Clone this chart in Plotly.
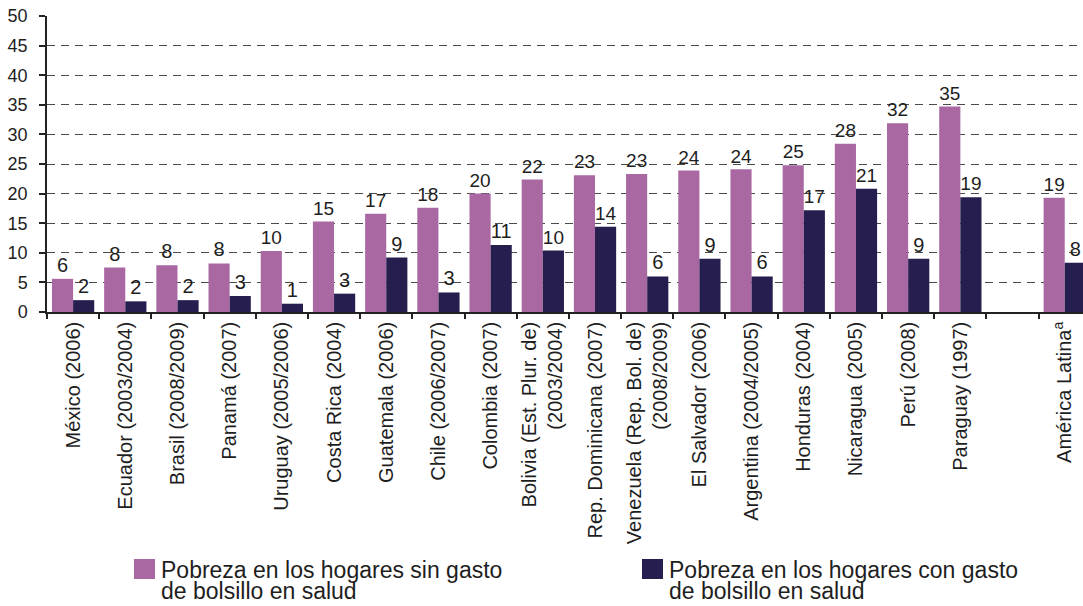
import plotly.graph_objects as go

# Countries (survey years) plus the regional aggregate; a blank slot separates them
categories = [
    "México (2006)", "Ecuador (2003/2004)", "Brasil (2008/2009)", "Panamá (2007)",
    "Uruguay (2005/2006)", "Costa Rica (2004)", "Guatemala (2006)", "Chile (2006/2007)",
    "Colombia (2007)", "Bolivia (Est. Plur. de)<br>(2003/2004)", "Rep. Dominicana (2007)",
    "Venezuela (Rep. Bol. de)<br>(2008/2009)", "El Salvador (2006)", "Argentina (2004/2005)",
    "Honduras (2004)", "Nicaragua (2005)", "Perú (2008)", "Paraguay (1997)", " ",
    "América Latina<sup>a</sup>",
]

# Poverty among households without out-of-pocket health spending (%)
sin_gasto = [5.6, 7.5, 7.9, 8.2, 10.3, 15.3, 16.6, 17.6, 20.0, 22.4, 23.1, 23.3,
             23.9, 24.1, 24.8, 28.4, 31.9, 34.7, None, 19.3]
# Poverty among households with out-of-pocket health spending (%)
con_gasto = [2.0, 1.8, 2.0, 2.7, 1.4, 3.1, 9.2, 3.3, 11.3, 10.4, 14.4, 6.0,
             9.0, 6.0, 17.2, 20.8, 9.0, 19.4, None, 8.3]

series_names = [
    "Pobreza en los hogares sin gasto<br>de bolsillo en salud",
    "Pobreza en los hogares con gasto<br>de bolsillo en salud",
]
y_ticks = list(range(0, 55, 5))

PINK = "#AA68A3"
NAVY = "#261E4E"
TEXT = "#1e1e1e"
FONT = "Liberation Sans, Arial, sans-serif"

W, H = 1083, 606
M_L, M_R, M_T, M_B = 47, 0, 16, 294


def present(values):
    """Keep only categories that carry a value (the spacer slot stays empty)."""
    pairs = [(c, v) for c, v in zip(categories, values) if v is not None]
    return [c for c, _ in pairs], [v for _, v in pairs]


fig = go.Figure()
for name, vals, color in [(series_names[0], sin_gasto, PINK), (series_names[1], con_gasto, NAVY)]:
    xs, ys = present(vals)
    fig.add_trace(go.Bar(
        x=xs, y=ys, name=name,
        marker=dict(color=color, line=dict(width=0)),
        text=[str(int(v + 0.5)) for v in ys], textposition="outside",
        textfont=dict(family=FONT, size=20, color=TEXT),
        cliponaxis=False, showlegend=False,
    ))

# Pixel -> paper helpers for the hand-built legend below the axis labels
plot_w = W - M_L - M_R
plot_h = H - M_T - M_B


def px_x(px):
    return (px - M_L) / plot_w


def px_y(py):
    return (H - M_B - py) / plot_h


legend_items = [
    (PINK, 134, 161, series_names[0].split("<br>")),
    (NAVY, 642, 669, series_names[1].split("<br>")),
]
for color, sx, tx, lines in legend_items:
    fig.add_shape(type="rect", xref="paper", yref="paper",
                  x0=px_x(sx), x1=px_x(sx + 21), y0=px_y(579), y1=px_y(559),
                  fillcolor=color, line=dict(width=0))
    for i, line in enumerate(lines):
        fig.add_annotation(xref="paper", yref="paper", x=px_x(tx - 1), y=px_y(570 + 21 * i),
                           xanchor="left", yanchor="middle", showarrow=False, text=line,
                           borderpad=0, font=dict(family=FONT, size=23, color=TEXT))

fig.update_layout(
    width=W, height=H,
    margin=dict(l=M_L, r=M_R, t=M_T, b=M_B, pad=0),
    paper_bgcolor="white", plot_bgcolor="white",
    barmode="group", bargap=0.19, bargroupgap=0.0,
    font=dict(family=FONT, color=TEXT),
    xaxis=dict(
        type="category", categoryorder="array", categoryarray=categories,
        range=[-0.5, 19.35], tickson="boundaries",
        ticks="outside", ticklen=5, tickwidth=1.5, tickcolor="#222",
        showline=True, linecolor="#222", linewidth=1.5,
        showgrid=False, tickangle=-90,
        tickfont=dict(family=FONT, size=20, color=TEXT),
    ),
    yaxis=dict(
        range=[0, 50], tickvals=y_ticks,
        showgrid=True, gridcolor="#4a4a4a", gridwidth=1, griddash="8px,6px",
        zeroline=False, showline=True, linecolor="#222", linewidth=1.5,
        ticks="outside", ticklen=6, tickwidth=1.5, tickcolor="#222",
        ticklabelstandoff=8,
        tickfont=dict(family=FONT, size=18, color=TEXT),
    ),
)

fig.write_html("out.html")
